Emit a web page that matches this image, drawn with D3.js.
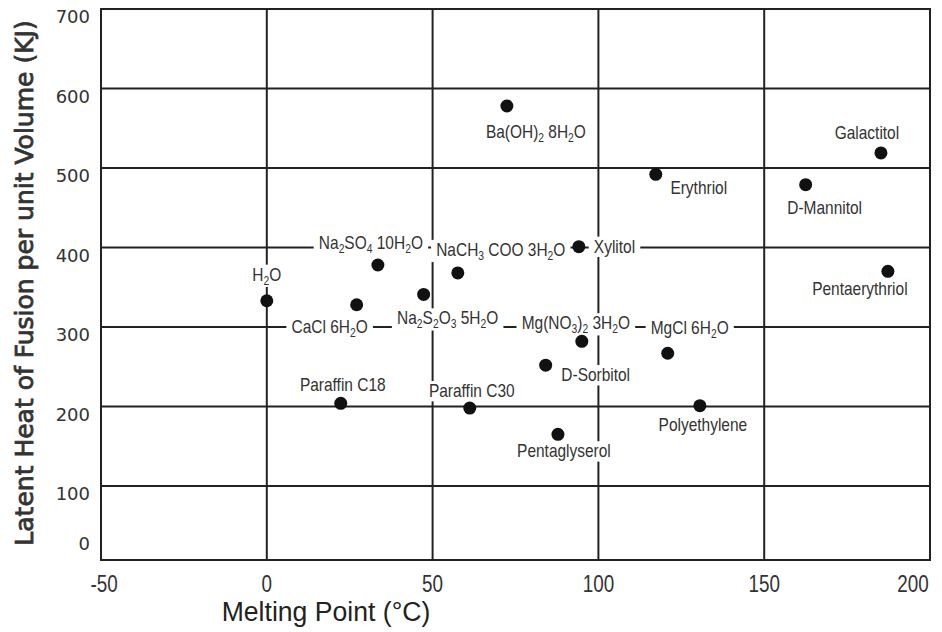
<!DOCTYPE html>
<html><head><meta charset="utf-8">
<script src="https://cdn.jsdelivr.net/npm/d3@7"></script>
<style>body{margin:0;background:#fff}</style>
</head><body>
<svg id="chart" width="942" height="632"></svg>
<script>
// ---- data ----
const names = ["H_2O","Paraffin C18","CaCl  6H_2O","Na_2SO_4 10H_2O","Na_2S_2O_3 5H_2O","NaCH_3 COO 3H_2O",
  "Paraffin C30","Ba(OH)_2 8H_2O","Pentaglyserol","D-Sorbitol","Xylitol","Mg(NO_3)_2 3H_2O",
  "Erythriol","MgCl  6H_2O","Polyethylene","D-Mannitol","Galactitol","Pentaerythriol"];
const meltingPoint = [0, 22.3, 27.1, 33.5, 47.3, 57.6, 61.2, 72.4, 87.8, 84.1, 94.1, 95, 117.3, 120.9, 130.6, 162.5, 185.2, 187.3];
const latentHeat = [333, 204, 328, 378, 341, 368, 198, 578, 165, 252, 401, 282, 492, 267, 201, 479, 519, 370];
const xTicks = [-50, 0, 50, 100, 150, 200];
const yTicks = [0, 100, 200, 300, 400, 500, 600, 700];
// label placement (pixel offsets from point, layout only)
const labelDx = [0, 2, -27, -7, 24, 43, 2, 29, 6, 50, 15, -6, 43, 22, 3, 19, -14, -28];
const labelDy = [-26, -18, 22, -22, 24, -23, -17, 26, 17, 10, 0, -18, 14, -25, 19, 23, -20, 18];
const labelAnchor = ["middle","middle","middle","middle","middle","middle","middle","middle","middle","middle","start","middle","middle","middle","middle","middle","middle","middle"];

// ---- layout ----
const L = 101, R = 930, T = 9, B = 560;
const x = d3.scaleLinear().domain([-50, 200]).range([L, R]);
const y = d3.scaleLinear().domain([100, 700]).range([486, 9]);
const svg = d3.select("#chart");
const ink = "#222";
const narrow = "Liberation Sans, Arial, sans-serif";

// grid
svg.append("g").selectAll("line").data(xTicks.slice(1, -1)).join("line")
  .attr("x1", d => x(d)).attr("x2", d => x(d)).attr("y1", T).attr("y2", B)
  .attr("stroke", ink).attr("stroke-width", 2);
svg.append("g").selectAll("line").data(yTicks.filter(v => v > 0 && v < 700)).join("line")
  .attr("x1", L).attr("x2", R).attr("y1", d => y(d)).attr("y2", d => y(d))
  .attr("stroke", ink).attr("stroke-width", 2);
svg.append("rect").attr("x", L).attr("y", T).attr("width", R - L).attr("height", B - T)
  .attr("fill", "none").attr("stroke", ink).attr("stroke-width", 2);

// y tick labels
svg.append("g").selectAll("text").data(yTicks).join("text")
  .attr("x", 90).attr("y", d => d === 0 ? B - 10 : y(d) + 14)
  .attr("text-anchor", "end").attr("font-family", "DejaVu Sans").attr("font-size", 18)
  .attr("fill", "#333").text(d => d);

// x tick labels (condensed)
svg.append("g").selectAll("g").data(xTicks).join("g")
  .attr("transform", d => `translate(${d === -50 ? x(d) + 3 : d === 200 ? x(d) - 17 : x(d)},592) scale(0.82,1)`)
  .append("text").attr("text-anchor", "middle").attr("font-family", narrow)
  .attr("font-size", 23).attr("fill", "#333").text(d => d);

// axis titles
svg.append("g").attr("transform", "translate(326,621) scale(0.95,1)")
  .append("text").attr("text-anchor", "middle")
  .attr("font-family", narrow).attr("font-size", 28)
  .attr("fill", "#222").text("Melting Point (°C)");
svg.append("text").attr("transform", "translate(33,283) rotate(-90)").attr("text-anchor", "middle")
  .attr("font-family", "DejaVu Sans").attr("font-size", 25).attr("stroke", "#333").attr("stroke-width", 0.8)
  .attr("fill", "#333").text("Latent Heat of Fusion per unit Volume (KJ)");

// labels
const lg = svg.append("g");
names.forEach((nm, i) => {
  const px = x(meltingPoint[i]) + labelDx[i], py = y(latentHeat[i]) + labelDy[i];
  const g = lg.append("g").attr("transform", `translate(${px},${py + 6}) scale(0.86,1)`);
  const bg = g.append("rect").attr("fill", "#fff");
  const t = g.append("text").attr("x", 0).attr("y", 0)
    .attr("text-anchor", labelAnchor[i]).attr("font-family", narrow)
    .attr("font-size", 18).attr("fill", "#333");
  const parts = nm.split(/_(\d)/);
  parts.forEach((p, k) => {
    if (p === "") return;
    if (k % 2 === 1) t.append("tspan").attr("font-size", 12).attr("dy", 4).text(p);
    else {
      const s = t.append("tspan").text(p);
      if (k > 0) s.attr("dy", -4);
    }
  });
  const bb = t.node().getBBox();
  bg.attr("x", bb.x - 6).attr("y", bb.y).attr("width", bb.width + 12).attr("height", bb.height);
});

// dots
svg.append("g").selectAll("circle").data(names).join("circle")
  .attr("cx", (d, i) => x(meltingPoint[i])).attr("cy", (d, i) => y(latentHeat[i]))
  .attr("r", 6.5).attr("fill", "#111");
</script>
</body></html>
